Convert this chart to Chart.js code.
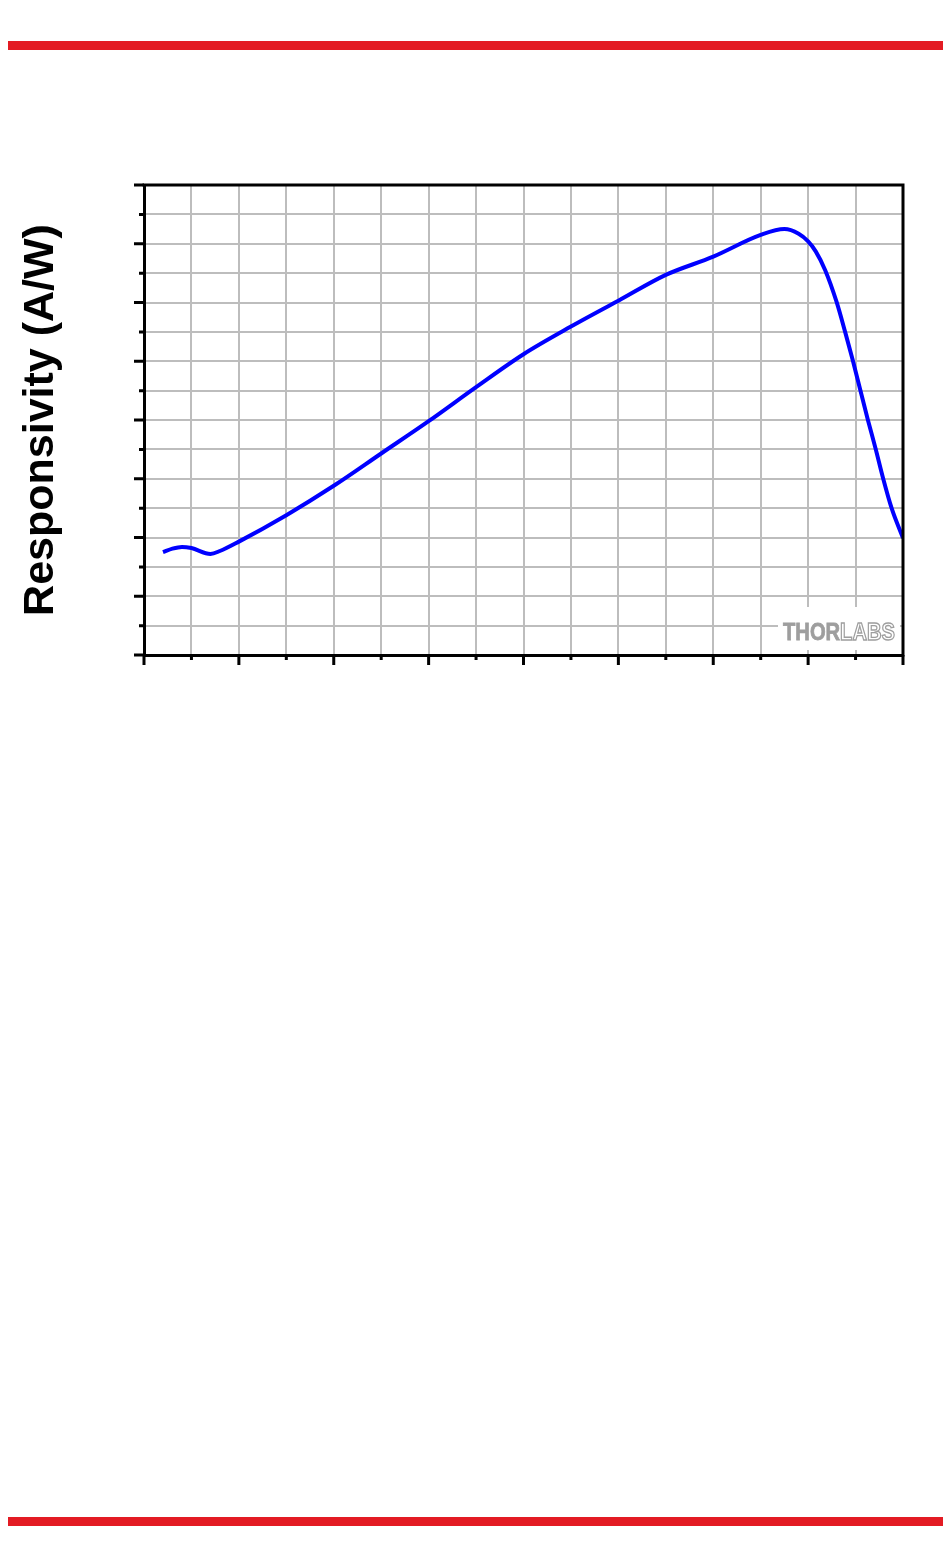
<!DOCTYPE html>
<html>
<head>
<meta charset="utf-8">
<script src="https://cdn.jsdelivr.net/npm/chart.js@4.4.1/dist/chart.umd.min.js"></script>
<style>
  html, body { margin: 0; padding: 0; background: #ffffff; }
  body { width: 950px; height: 1568px; position: relative; overflow: hidden; }
  .bar { position: absolute; left: 8px; width: 935px; height: 9px; background: #e31b23; }
  #wrap { position: absolute; left: 0; top: 0; width: 950px; height: 700px; }
</style>
</head>
<body>
<div class="bar" style="top:41px"></div>
<div class="bar" style="top:1517px"></div>
<div id="wrap"><canvas id="c" width="950" height="700"></canvas></div>
<script>
// Data (wavelength in nm, responsivity in A/W)
const wavelengthNm = [320, 330, 340, 350, 370, 380, 400, 450, 500, 550, 600, 650, 700, 750, 800, 850, 900, 950, 975, 990, 1000, 1008, 1018, 1030, 1039, 1047, 1055, 1063, 1071, 1079, 1088, 1100];
const responsivity = [0.175, 0.181, 0.184, 0.182, 0.172, 0.177, 0.193, 0.238, 0.288, 0.343, 0.398, 0.456, 0.512, 0.559, 0.603, 0.647, 0.678, 0.715, 0.725, 0.717, 0.704, 0.687, 0.655, 0.601, 0.550, 0.502, 0.451, 0.400, 0.352, 0.301, 0.250, 0.199];
const xRange = [300, 1100];
const xMinorStep = 50, xMajorStep = 100;
const yRange = [0, 0.8];
const yMinorStep = 0.05, yMajorStep = 0.1;
const yTitle = 'Responsivity (A/W)';
const logoParts = ['THOR', 'LABS'];

const points = wavelengthNm.map((w, i) => ({ x: w, y: responsivity[i] }));

const framePlugin = {
  id: 'frameTicks',
  afterDraw(chart) {
    const ctx = chart.ctx;
    const a = chart.chartArea;
    const xs = chart.scales.x, ys = chart.scales.y;
    ctx.save();
    ctx.strokeStyle = '#000';
    ctx.lineWidth = 3;
    ctx.lineCap = 'butt';
    // top and right frame
    ctx.beginPath();
    ctx.moveTo(a.left - 1.5, a.top);
    ctx.lineTo(a.right, a.top);
    ctx.moveTo(a.right, a.top - 1.5);
    ctx.lineTo(a.right, a.bottom + 1.5);
    ctx.stroke();
    // bottom ticks
    ctx.beginPath();
    const nx = Math.round((xRange[1] - xRange[0]) / xMinorStep);
    for (let i = 0; i <= nx; i++) {
      const v = xRange[0] + i * xMinorStep;
      const px = xs.getPixelForValue(v);
      const major = (i % Math.round(xMajorStep / xMinorStep)) === 0;
      ctx.moveTo(px, a.bottom);
      ctx.lineTo(px, a.bottom + (major ? 10 : 5));
    }
    // left ticks
    const ny = Math.round((yRange[1] - yRange[0]) / yMinorStep);
    for (let i = 0; i <= ny; i++) {
      const v = yRange[0] + i * yMinorStep;
      const py = ys.getPixelForValue(v);
      const major = (i % Math.round(yMajorStep / yMinorStep)) === 0;
      ctx.moveTo(a.left, py);
      ctx.lineTo(a.left - (major ? 10 : 5), py);
    }
    ctx.stroke();
    // logo
    ctx.fillStyle = '#ffffff';
    ctx.fillRect(a.right - 125, a.bottom - 48, 122, 43);
    ctx.font = 'bold 24px "Liberation Sans", Arial, sans-serif';
    ctx.textBaseline = 'alphabetic';
    const w1 = ctx.measureText(logoParts[0]).width;
    const w2 = ctx.measureText(logoParts[1]).width;
    const target = 112;
    const sx = target / (w1 + w2);
    ctx.translate(a.right - 120, a.bottom - 15);
    ctx.scale(sx, 1);
    ctx.fillStyle = '#9e9e9e';
    ctx.strokeStyle = '#9e9e9e';
    ctx.fillText(logoParts[0], 0, 0);
    ctx.lineWidth = 0.8;
    ctx.strokeText(logoParts[0], 0, 0);
    ctx.lineWidth = 1.4;
    ctx.fillStyle = '#ffffff';
    ctx.fillText(logoParts[1], w1, 0);
    ctx.strokeText(logoParts[1], w1, 0);
    ctx.restore();
  }
};

new Chart(document.getElementById('c'), {
  type: 'line',
  data: {
    datasets: [{
      data: points,
      borderColor: '#0000ff',
      borderWidth: 4,
      pointRadius: 0,
      fill: false,
      cubicInterpolationMode: 'monotone'
    }]
  },
  options: {
    responsive: false,
    animation: false,
    layout: { padding: { top: 185, right: 47, bottom: 0, left: 0 } },
    plugins: { legend: { display: false }, tooltip: { enabled: false } },
    scales: {
      x: {
        type: 'linear',
        min: xRange[0], max: xRange[1],
        ticks: { display: false, stepSize: xMinorStep },
        grid: { color: '#bdbdbd', lineWidth: 2, drawTicks: false },
        border: { display: true, color: '#000', width: 3 },
        afterFit(s) { s.height = 45; }
      },
      y: {
        type: 'linear',
        min: yRange[0], max: yRange[1],
        ticks: { display: false, stepSize: yMinorStep },
        grid: { color: '#bdbdbd', lineWidth: 2, drawTicks: false },
        border: { display: true, color: '#000', width: 3 },
        title: {
          display: true,
          text: yTitle,
          color: '#000',
          font: { family: '"Liberation Sans", Arial, sans-serif', size: 43, weight: 'bold' },
          padding: { top: 15, bottom: 0 }
        },
        afterFit(s) { s.width = 144; }
      }
    }
  },
  plugins: [framePlugin]
});
</script>
</body>
</html>
